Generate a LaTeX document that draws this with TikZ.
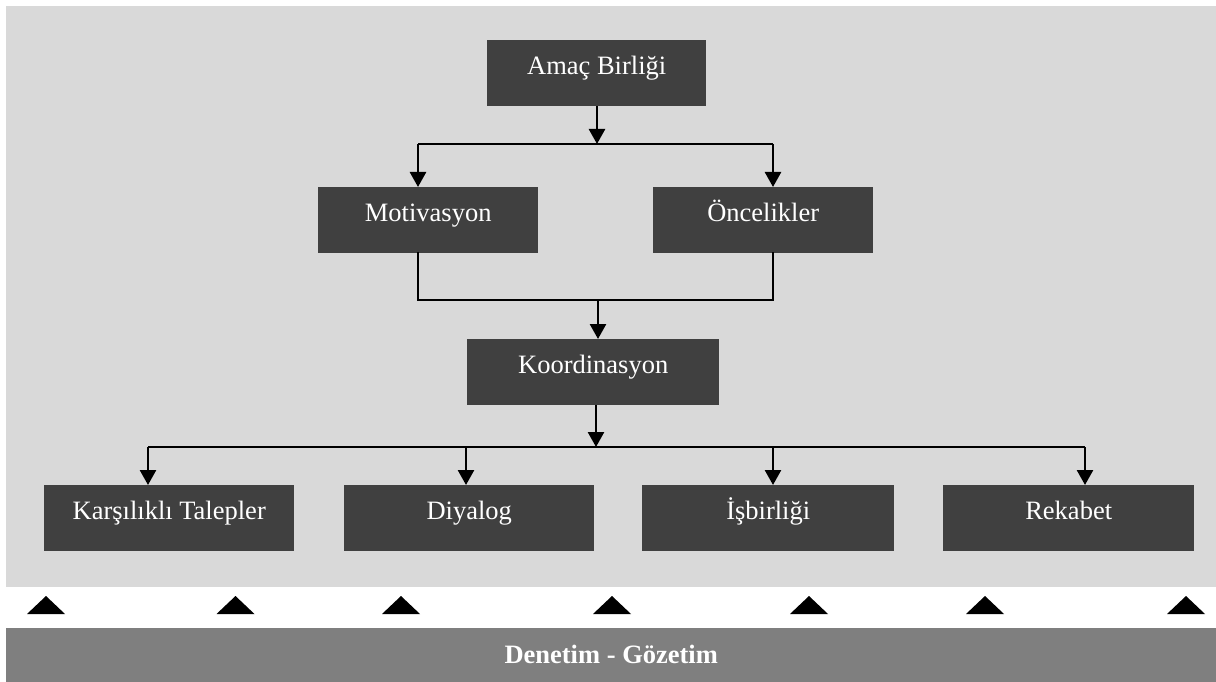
\documentclass[tikz,border=0pt]{standalone}
\usepackage{fontspec}
\setmainfont{Liberation Serif}
\usetikzlibrary{arrows.meta}
\definecolor{bggrey}{HTML}{D9D9D9}
\definecolor{boxgrey}{HTML}{404040}
\definecolor{bargrey}{HTML}{7F7F7F}
\begin{document}
\begin{tikzpicture}[x=1pt,y=-1pt,
  box/.style={fill=boxgrey, text=white, inner sep=0pt, anchor=north west,
    minimum height=66pt, text height=34pt, text depth=32pt,
    font=\fontsize{26.5}{30}\selectfont},
  link/.style={draw=black, line width=1.6pt},
  arr/.style={draw=black, line width=2.6pt, -{Triangle[width=16pt,length=15pt]}},
  tri/.style={fill=black}]
\useasboundingbox (0,0) rectangle (1216,682);
\fill[bggrey] (6,6) rectangle (1216,587);
% boxes
\node[box, minimum width=219pt] (amac) at (487,40) {Amaç Birliği};
\node[box, minimum width=220pt] (mot) at (318,187) {Motivasyon};
\node[box, minimum width=220pt] (onc) at (653,187) {Öncelikler};
\node[box, minimum width=252pt] (koor) at (467,339) {Koordinasyon};
\node[box, minimum width=250pt] (kars) at (44,485) {Karşılıklı Talepler};
\node[box, minimum width=250pt] (diy) at (344,485) {Diyalog};
\node[box, minimum width=252pt] (isb) at (642,485) {İşbirliği};
\node[box, minimum width=251pt] (rek) at (943,485) {Rekabet};
% junction coordinates
\coordinate (j1) at (597,144);
\coordinate (j2) at (598,300);
\coordinate (j3) at (596,447);
\coordinate (tm) at (418,187);
\coordinate (to) at (773,187);
\coordinate (bm) at (418,252);
\coordinate (bo) at (773,252);
\coordinate (tk) at (598,339);
\coordinate (t1) at (148,485);
\coordinate (t2) at (466,485);
\coordinate (t3) at (773,485);
\coordinate (t4) at (1085,485);
% connectors
\draw[arr] (amac.south -| j1) -- (j1);
\draw[link] (tm |- j1) -- (to |- j1);
\draw[arr] (tm |- j1) -- (tm);
\draw[arr] (to |- j1) -- (to);
\draw[link] (bm) |- (j2) -| (bo);
\draw[arr] (j2) -- (tk);
\draw[arr] (koor.south -| j3) -- (j3);
\draw[link] (t1 |- j3) -- (t4 |- j3);
\draw[arr] (t1 |- j3) -- (t1);
\draw[arr] (t2 |- j3) -- (t2);
\draw[arr] (t3 |- j3) -- (t3);
\draw[arr] (t4 |- j3) -- (t4);
% triangles
\foreach \x in {46,235.5,401,612,809,985,1186}{
  \fill[tri] (\x-19,614) -- (\x,596) -- (\x+19,614) -- cycle;
}
% bottom bar
\node[fill=bargrey, text=white, inner sep=0pt, anchor=north west,
  minimum width=1210pt, text height=35pt, text depth=19pt,
  font=\fontsize{26.5}{30}\selectfont\bfseries] (bar) at (6,628) {Denetim - Gözetim};
\end{tikzpicture}
\end{document}
